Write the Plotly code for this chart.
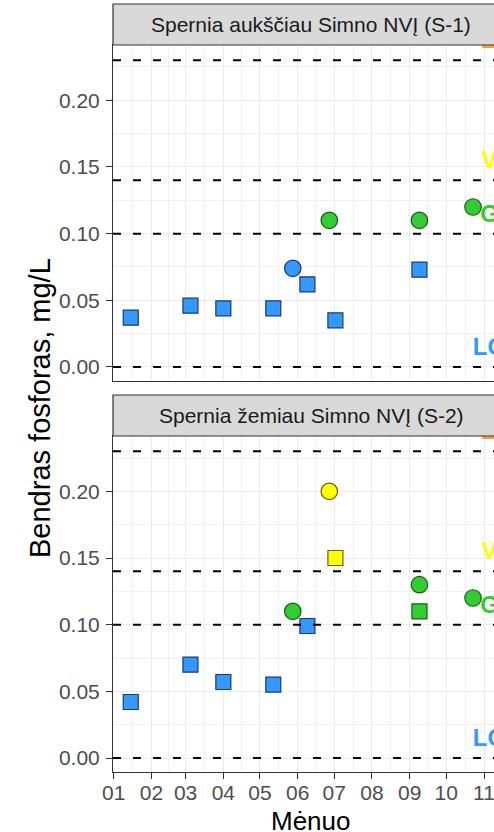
import pandas as pd
import plotly.graph_objects as go

# ---------------- data ----------------
panels = ["Spernia aukščiau Simno NVĮ (S-1)", "Spernia žemiau Simno NVĮ (S-2)"]

# circle series (dates + values per panel)
circle_dates = ["2021-05-28", "2021-06-27", "2021-09-09", "2021-10-23"]
circle_s1 = [0.074, 0.110, 0.110, 0.120]
circle_s2 = [0.110, 0.200, 0.130, 0.120]

# square series
square_dates = ["2021-01-15", "2021-03-05", "2021-04-01", "2021-05-12",
                "2021-06-09", "2021-07-02", "2021-09-09"]
square_s1 = [0.037, 0.046, 0.044, 0.044, 0.062, 0.035, 0.073]
square_s2 = [0.042, 0.070, 0.057, 0.055, 0.099, 0.150, 0.110]

# class thresholds and labels
thresholds = [0.00, 0.10, 0.14, 0.23]
class_labels = ["LG", "G", "V", "B"]
class_colors = ["#3399FF", "#33CC33", "#FFFF00", "#FF9933"]
class_edges = ["#1B3C66", "#1C5A1C", "#6E6200", "#6E3F10"]
label_date = "2021-11-05 12:00"
label_offset = 0.0135

month_ticks = pd.date_range("2021-01-01", "2021-12-01", freq="MS")
tick_text = [d.strftime("%m") for d in month_ticks]

# ---------------- helpers ----------------
def cls(v):
    k = 0
    for i, t in enumerate(thresholds):
        if v >= t:
            k = i
    return k

def fills(vals):
    return [class_colors[cls(v)] for v in vals]

def edges(vals):
    return [class_edges[cls(v)] for v in vals]

fig = go.Figure()

series = [(circle_s1, square_s1), (circle_s2, square_s2)]
for i, (cv, sv) in enumerate(series):
    xa = "x" if i == 0 else "x2"
    ya = "y" if i == 0 else "y2"
    fig.add_trace(go.Scatter(
        x=square_dates, y=sv, mode="markers", xaxis=xa, yaxis=ya,
        marker=dict(symbol="square", size=15, color=fills(sv),
                    line=dict(color=edges(sv), width=1.2)),
        showlegend=False, cliponaxis=True))
    fig.add_trace(go.Scatter(
        x=circle_dates, y=cv, mode="markers", xaxis=xa, yaxis=ya,
        marker=dict(symbol="circle", size=16.5, color=fills(cv),
                    line=dict(color=edges(cv), width=1.2)),
        showlegend=False, cliponaxis=True))
    fig.add_trace(go.Scatter(
        x=[label_date] * len(thresholds),
        y=[t + label_offset for t in thresholds],
        text=class_labels, mode="text", textposition="middle center",
        textfont=dict(family="Liberation Sans", size=24, color=class_colors,
                      weight="bold"),
        xaxis=xa, yaxis=ya, showlegend=False, cliponaxis=True))
    for t in thresholds:
        fig.add_shape(type="line", xref=f"{xa} domain", yref=ya,
                      x0=0, x1=1, y0=t, y1=t, layer="above",
                      line=dict(color="black", width=2, dash="8px,12px"))

# minor grid (mid-month)
ext = pd.date_range("2020-12-01", "2022-01-01", freq="MS")
minor_vals = [(ext[k] + (ext[k + 1] - ext[k]) / 2).strftime("%Y-%m-%d %H:%M")
              for k in range(len(ext) - 1)]

x_range = ["2020-12-31 10:00", "2021-11-09 05:00"]
y_range = [-0.0105, 0.2415]

common_x = dict(
    type="date", range=x_range, tickvals=list(month_ticks), ticktext=tick_text,
    showgrid=True, gridcolor="#EBEBEB", gridwidth=1.2,
    minor=dict(tickvals=minor_vals, showgrid=True, gridcolor="#F0F0F0",
               gridwidth=0.8),
    showline=True, linecolor="#333333", linewidth=1, mirror=True,
    zeroline=False, ticklabeloverflow="allow",
    tickfont=dict(family="Liberation Sans", size=21, color="#4D4D4D"),
)
common_y = dict(
    range=y_range, tickvals=[0, 0.05, 0.10, 0.15, 0.20],
    ticktext=["0.00", "0.05", "0.10", "0.15", "0.20"],
    showgrid=True, gridcolor="#EBEBEB", gridwidth=1.2,
    minor=dict(dtick=0.025, tick0=0, showgrid=True, gridcolor="#F0F0F0",
               gridwidth=0.8),
    showline=True, linecolor="#333333", linewidth=1, mirror=False,
    zeroline=False, ticks="outside", ticklen=6, tickcolor="#333333",
    ticklabelstandoff=2,
    tickfont=dict(family="Liberation Sans", size=21, color="#4D4D4D"),
)

fig.update_layout(
    width=494, height=832,
    margin=dict(l=113, r=0, t=0, b=60),
    paper_bgcolor="white", plot_bgcolor="white",
    xaxis=dict(**common_x, anchor="y", showticklabels=False, ticks=""),
    xaxis2=dict(**common_x, anchor="y2", matches="x", ticks="outside",
                ticklen=6, tickcolor="#333333", ticklabelstandoff=-4),
    yaxis=dict(**common_y, domain=[0.50648, 0.94171], anchor="x"),
    yaxis2=dict(**common_y, domain=[0.0, 0.43523], anchor="x2"),
)

# strips
strips = [(0.94171, 0.99482), (0.43523, 0.48834)]
for (y0, y1), title in zip(strips, panels):
    fig.add_shape(type="rect", xref="paper", yref="paper",
                  x0=0, x1=1.1, y0=y0, y1=y1,
                  fillcolor="#D9D9D9", line=dict(color="#333333", width=1.2),
                  layer="above")
    fig.add_annotation(text=title, xref="paper", yref="paper",
                       x=0.5197, y=(y0 + y1) / 2, showarrow=False,
                       xanchor="center", yanchor="middle",
                       font=dict(family="Liberation Sans", size=21,
                                 color="#1A1A1A"))

fig.add_annotation(text="Mėnuo", xref="paper", yref="paper",
                   x=0.5197, y=-0.063, showarrow=False,
                   xanchor="center", yanchor="middle",
                   font=dict(family="Liberation Sans", size=26, color="black"))
fig.add_annotation(text="Bendras fosforas, mg/L", xref="paper", yref="paper",
                   x=-0.1916, y=0.4715, showarrow=False, textangle=-90,
                   xanchor="center", yanchor="middle",
                   font=dict(family="Liberation Sans", size=29, color="black"))

fig.write_html(
    "out.html",
    config={"displayModeBar": False},
    post_script="document.body.style.margin='0px';"
                "document.body.style.overflow='hidden';",
)
